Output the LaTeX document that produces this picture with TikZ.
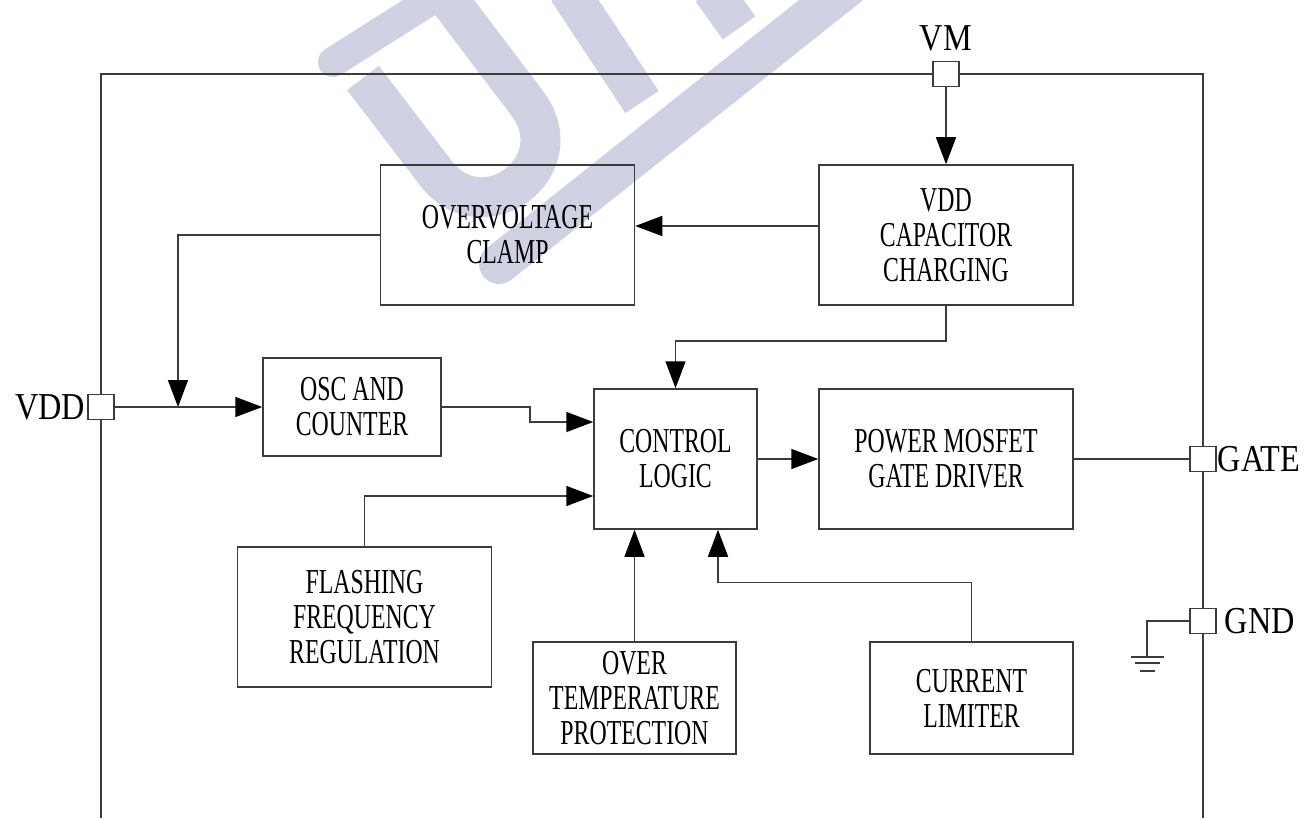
\documentclass[tikz,border=0pt]{standalone}
\usepackage{fontspec}
\setmainfont{Liberation Serif}
\newfontfamily\blockfont[FakeStretch=0.68]{Liberation Serif}
\newfontfamily\pinfont[FakeStretch=0.85]{Liberation Serif}
\usetikzlibrary{arrows.meta}
\definecolor{ink}{RGB}{60,60,60}
\definecolor{wmark}{RGB}{208,210,228}

\begin{document}
\begin{tikzpicture}[
  x=0.5pt, y=-0.5pt,
  >={Triangle[length=13.5pt,width=10pt,color=black]},
  every path/.style={line width=0.75pt},
  blk/.style={draw=ink, align=center, inner sep=0pt, font=\blockfont\fontsize{17.5}{17.5}\selectfont},
  wide/.style={blk, minimum width=127pt, minimum height=70pt},
  small/.style={blk, minimum width=101.5pt, minimum height=56pt},
  pin/.style={draw=ink, fill=white, minimum width=13pt, minimum height=12.5pt, inner sep=0pt},
  pinlbl/.style={inner sep=0pt, font=\pinfont\fontsize{19}{20}\selectfont},
  wm/.style={draw=wmark, line width=20pt},
]
\useasboundingbox (0,0) rectangle (1305,818);

% ---- watermark ----
\draw[wm, line width=15pt, line cap=round] (333,62) -- (450,-12);
\draw[wm] (363,78) -- (435,172) .. controls (483,236) and (575,166) .. (527,103) -- (455,8) -- (449,0);
\draw[wm] (568,-10) -- (642,102);
\draw[wm] (712,-10) -- (739,28);
\draw[wm, line cap=round] (850,-15) -- (499,264);

% ---- package outline ----
\draw[ink] (101,818) -- (101,74) -- (1203,74) -- (1203,818);

% ---- blocks ----
\node[wide] (ov)    at (507.5,235) {OVERVOLTAGE\\CLAMP};
\node[wide] (vcap)  at (946,235)   {VDD\\CAPACITOR\\CHARGING};
\node[blk, minimum width=89pt, minimum height=49pt] (osc) at (352,407) {OSC AND\\COUNTER};
\node[blk, minimum width=81.5pt, minimum height=70pt] (cl) at (675.5,459) {CONTROL\\LOGIC};
\node[wide] (pwr)   at (946,459)   {POWER MOSFET\\GATE DRIVER};
\node[wide] (flash) at (364.5,617) {FLASHING\\FREQUENCY\\REGULATION};
\node[small] (otp)  at (634.5,698) {OVER\\TEMPERATURE\\PROTECTION};
\node[small] (cur)  at (971.5,698) {CURRENT\\LIMITER};

% ---- pins ----
\node[pin] (vm)   at (946,74)   {};
\node[pin] (vdd)  at (101,407)  {};
\node[pin] (gate) at (1203,459) {};
\node[pin] (gnd)  at (1203,621) {};
\node[pinlbl] (vmlbl)   at (946,38)  {VM};
\node[pinlbl, anchor=east] (vddlbl) at (86,407)  {VDD};
\node[pinlbl, anchor=west] (gatelbl) at (1217,459) {GATE};
\node[pinlbl, anchor=west] (gndlbl)  at (1224,621) {GND};

% ---- connections ----
\coordinate (tap) at (178,407);
\coordinate (gndtop) at (1147,657);
\draw[ink,->] (vm.south) -- (vcap.north);
\draw[ink,->] ([yshift=4.5pt]vcap.west) -- ([yshift=4.5pt]ov.east);
\draw[ink,->] (ov.west) -| (tap);
\draw[ink,->] (vdd.east) -- (osc.west);
\draw[ink,->] (osc.east) -- ++(88,0) |- ([yshift=18.5pt]cl.west);
\draw[ink,->] (flash.north) |- ([yshift=-18.5pt]cl.west);
\draw[ink,->] (vcap.south) -- ++(0,35) -| (cl.north);
\draw[ink,->] (otp.north) -- (otp.north |- cl.south);
\draw[ink,->] (cur.north) -- ++(0,-59) -| ([xshift=21.25pt]cl.south);
\draw[ink,->] (cl.east) -- (pwr.west);
\draw[ink] (pwr.east) -- (gate.west);
\draw[ink] (gnd.west) -| (gndtop);
\draw[ink] (gndtop) ++(-16,0) -- ++(33,0)
           (gndtop) ++(-12,6) -- ++(25,0)
           (gndtop) ++(-7,14) -- ++(15,0);
\end{tikzpicture}
\end{document}
